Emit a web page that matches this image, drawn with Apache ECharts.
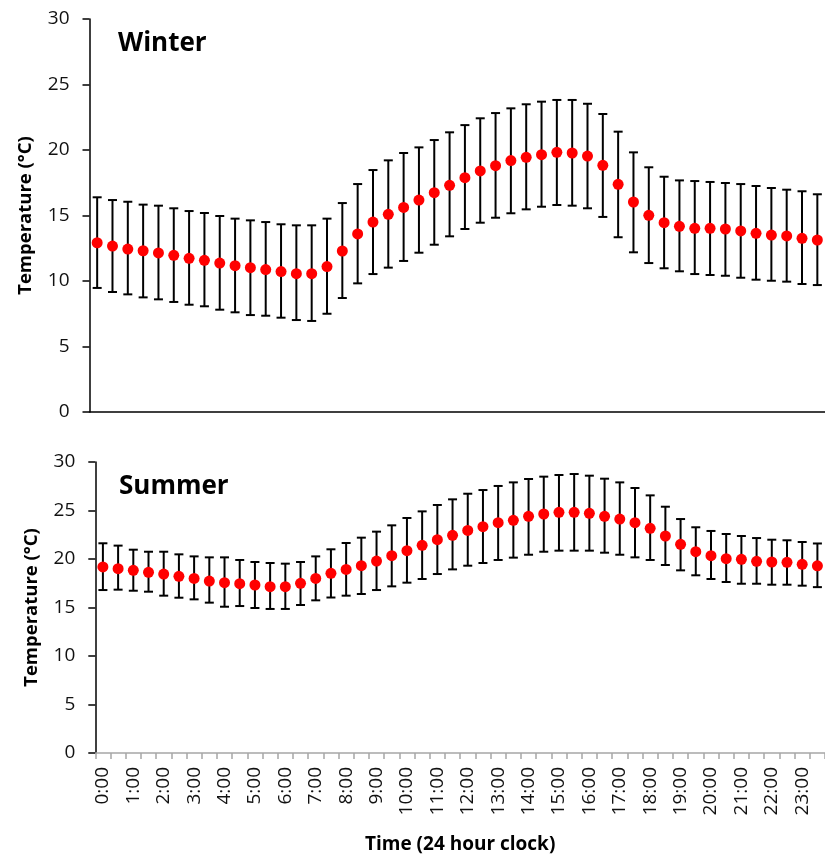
<!DOCTYPE html>
<html>
<head>
<meta charset="utf-8">
<script src="https://cdn.jsdelivr.net/npm/echarts@6/dist/echarts.min.js"></script>
<style>
html,body{margin:0;padding:0;background:#fff;}
#chart{width:825px;height:856px;}
</style>
</head>
<body>
<div id="chart"></div>
<script>
const categories = ["0:00","0:30","1:00","1:30","2:00","2:30","3:00","3:30","4:00","4:30","5:00","5:30",
"6:00","6:30","7:00","7:30","8:00","8:30","9:00","9:30","10:00","10:30","11:00","11:30",
"12:00","12:30","13:00","13:30","14:00","14:30","15:00","15:30","16:00","16:30","17:00","17:30",
"18:00","18:30","19:00","19:30","20:00","20:30","21:00","21:30","22:00","22:30","23:00","23:30"];

const winterMean = [12.92,12.67,12.44,12.31,12.14,11.96,11.73,11.58,11.37,11.17,11.02,10.87,10.72,10.56,10.56,11.1,12.29,13.59,14.5,15.09,15.62,16.18,16.74,17.3,17.89,18.4,18.8,19.19,19.44,19.64,19.82,19.77,19.54,18.83,17.38,16.03,15.01,14.45,14.17,14.02,14.02,13.97,13.82,13.64,13.51,13.44,13.26,13.13];
const winterUpper = [16.39,16.18,16.05,15.83,15.75,15.55,15.34,15.19,14.96,14.76,14.63,14.5,14.33,14.25,14.25,14.76,15.95,17.4,18.47,19.21,19.77,20.2,20.76,21.35,21.9,22.42,22.82,23.18,23.49,23.69,23.82,23.82,23.53,22.75,21.4,19.82,18.68,17.96,17.68,17.63,17.56,17.48,17.4,17.25,17.1,16.97,16.85,16.62];
const winterLower = [9.47,9.16,8.98,8.75,8.6,8.4,8.19,8.07,7.81,7.61,7.4,7.35,7.2,7.02,6.95,7.5,8.7,9.82,10.53,11.02,11.53,12.16,12.77,13.41,13.97,14.45,14.83,15.17,15.47,15.67,15.8,15.75,15.55,14.89,13.34,12.19,11.37,10.97,10.74,10.53,10.46,10.4,10.25,10.1,10.02,9.95,9.77,9.69];

const summerMean = [19.18,19.0,18.83,18.63,18.45,18.21,18.0,17.73,17.56,17.45,17.32,17.15,17.15,17.49,18.0,18.52,18.93,19.31,19.79,20.34,20.86,21.41,21.99,22.44,22.95,23.33,23.74,23.99,24.4,24.64,24.81,24.81,24.71,24.4,24.12,23.74,23.16,22.37,21.51,20.75,20.34,20.03,19.97,19.76,19.69,19.66,19.45,19.3];
const summerUpper = [21.62,21.38,20.96,20.75,20.75,20.48,20.27,20.17,20.17,19.9,19.69,19.59,19.52,19.69,20.27,21.0,21.65,22.2,22.82,23.47,24.23,24.91,25.57,26.15,26.73,27.11,27.53,27.9,28.25,28.49,28.66,28.76,28.59,28.28,27.9,27.32,26.56,25.39,24.12,23.27,22.89,22.58,22.37,22.16,21.99,21.93,21.75,21.6];
const summerLower = [16.8,16.84,16.73,16.63,16.22,16.01,15.84,15.5,15.08,15.15,14.95,14.85,14.85,15.26,15.74,16.03,16.22,16.39,16.8,17.18,17.56,17.94,18.45,18.93,19.31,19.59,19.9,20.14,20.44,20.75,20.86,20.86,20.86,20.65,20.44,20.17,19.9,19.38,18.83,18.32,17.94,17.63,17.45,17.45,17.35,17.35,17.25,17.1];

const yTicks = { min: 0, max: 30, interval: 5 };
const panelTitles = ["Winter", "Summer"];
const yName = "Temperature (°C)";
const xName = "Time (24 hour clock)";

const FONT = "'Open Sans', 'Noto Sans', sans-serif";

function errData(up, lo) {
  return categories.map((c, i) => [i, up[i], lo[i]]);
}

function errSeries(xi, yi, up, lo) {
  return {
    type: 'custom',
    xAxisIndex: xi, yAxisIndex: yi,
    data: errData(up, lo),
    z: 2,
    clip: false,
    renderItem: function (params, api) {
      const x = api.value(0);
      const pu = api.coord([x, api.value(1)]);
      const pl = api.coord([x, api.value(2)]);
      const hw = 4.5;
      const st = { stroke: '#000', lineWidth: 2 };
      return {
        type: 'group',
        children: [
          { type: 'line', shape: { x1: pu[0], y1: pu[1], x2: pl[0], y2: pl[1] }, style: st },
          { type: 'line', shape: { x1: pu[0] - hw, y1: pu[1], x2: pu[0] + hw, y2: pu[1] }, style: st },
          { type: 'line', shape: { x1: pl[0] - hw, y1: pl[1], x2: pl[0] + hw, y2: pl[1] }, style: st }
        ]
      };
    }
  };
}

function dotSeries(xi, yi, vals) {
  return {
    type: 'scatter',
    xAxisIndex: xi, yAxisIndex: yi,
    data: vals.map((v, i) => [i, v]),
    symbol: 'circle',
    symbolSize: 11,
    itemStyle: { color: '#ff0000', opacity: 1 },
    z: 3,
    silent: true
  };
}

function yAxisCfg(gi) {
  return {
    type: 'value', gridIndex: gi,
    min: yTicks.min, max: yTicks.max, interval: yTicks.interval,
    name: yName, nameLocation: 'middle', nameGap: 54, nameRotate: 90,
    nameTextStyle: { fontFamily: FONT, fontWeight: 'bold', fontSize: 18.5, color: '#000' },
    axisLine: { show: true, lineStyle: { color: '#000', width: 1.5 } },
    axisTick: { show: true, length: 7, lineStyle: { color: '#000', width: 1.5 } },
    axisLabel: { fontFamily: FONT, fontSize: 19, color: '#111', margin: 20 },
    splitLine: { show: false }
  };
}

const chart = echarts.init(document.getElementById('chart'), null, { renderer: 'canvas' });
chart.setOption({
  animation: false,
  backgroundColor: '#fff',
  title: [
    { text: panelTitles[0], left: 113, top: 26, textStyle: { fontFamily: FONT, fontWeight: 'bold', fontSize: 26, color: '#000' } },
    { text: panelTitles[1], left: 114, top: 469, textStyle: { fontFamily: FONT, fontWeight: 'bold', fontSize: 26, color: '#000' } }
  ],
  grid: [
    { left: 89.5, top: 19, width: 740.6, height: 393 },
    { left: 95.3, top: 462, width: 740.6, height: 291 }
  ],
  xAxis: [
    {
      type: 'category', gridIndex: 0, data: categories, boundaryGap: true,
      axisLine: { show: true, onZero: false, lineStyle: { color: '#000', width: 1.5 } },
      axisTick: { show: false },
      axisLabel: { show: false },
      splitLine: { show: false }
    },
    {
      type: 'category', gridIndex: 1, data: categories, boundaryGap: true,
      name: xName, nameLocation: 'middle', nameGap: 82,
      nameTextStyle: { fontFamily: FONT, fontWeight: 'bold', fontSize: 19, color: '#000' },
      axisLine: { show: true, onZero: false, lineStyle: { color: '#a6a6a6', width: 1.5 } },
      axisTick: { show: true, interval: 0, length: 6, lineStyle: { color: '#a6a6a6', width: 1.5 } },
      axisLabel: { interval: 1, rotate: 90, fontFamily: FONT, fontSize: 19, color: '#111', margin: 14 },
      splitLine: { show: false }
    }
  ],
  yAxis: [yAxisCfg(0), yAxisCfg(1)],
  series: [
    errSeries(0, 0, winterUpper, winterLower),
    dotSeries(0, 0, winterMean),
    errSeries(1, 1, summerUpper, summerLower),
    dotSeries(1, 1, summerMean)
  ]
});
</script>
</body>
</html>
